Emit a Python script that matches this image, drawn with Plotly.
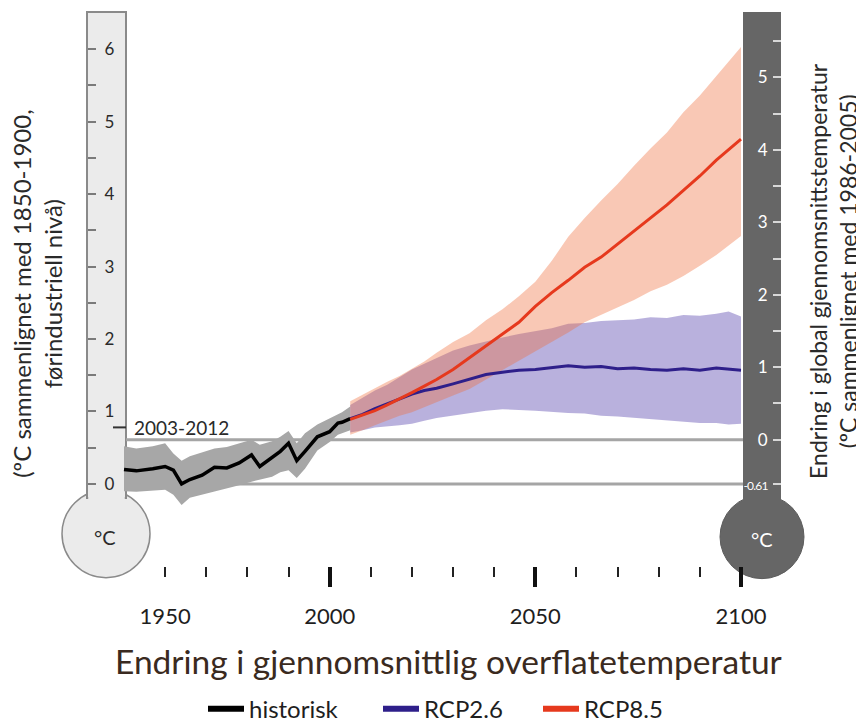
import plotly.graph_objects as go

# ---------------- data (°C relative to 1986-2005) ----------------
hist_years = [1950, 1953, 1957, 1960, 1962, 1964, 1966, 1969, 1972, 1975, 1978, 1981,
              1983, 1986, 1988, 1990, 1992, 1994, 1997, 2000, 2002, 2003, 2005]
hist_mean = [-0.41, -0.43, -0.40, -0.37, -0.42, -0.61, -0.55, -0.49, -0.38, -0.39, -0.32, -0.21,
             -0.37, -0.25, -0.16, -0.05, -0.29, -0.16, 0.04, 0.11, 0.23, 0.24, 0.29]
hist_high = [-0.09, -0.12, -0.09, -0.05, -0.19, -0.29, -0.23, -0.17, -0.12, -0.10, -0.05, 0.00,
             -0.07, -0.02, 0.04, 0.12, -0.05, 0.09, 0.21, 0.30, 0.36, 0.38, 0.46]
hist_low = [-0.71, -0.72, -0.70, -0.69, -0.76, -0.90, -0.80, -0.76, -0.71, -0.67, -0.63, -0.58,
            -0.55, -0.51, -0.45, -0.42, -0.53, -0.40, -0.15, -0.03, 0.07, 0.09, 0.13]

rcp_years = [2005, 2008, 2011, 2014, 2017, 2020, 2023, 2026, 2030, 2034, 2038, 2042, 2046, 2050,
             2054, 2058, 2062, 2066, 2070, 2074, 2078, 2082, 2086, 2090, 2094, 2097, 2100]
rcp26_mean = [0.29, 0.35, 0.43, 0.50, 0.57, 0.63, 0.68, 0.71, 0.77, 0.84, 0.90, 0.93, 0.96, 0.97,
              1.00, 1.02, 1.00, 1.01, 0.98, 0.99, 0.97, 0.96, 0.98, 0.96, 0.99, 0.97, 0.96]
rcp26_high = [0.48, 0.58, 0.68, 0.76, 0.86, 0.97, 1.05, 1.13, 1.23, 1.30, 1.36, 1.41, 1.46, 1.50,
              1.54, 1.60, 1.61, 1.64, 1.65, 1.66, 1.69, 1.68, 1.72, 1.71, 1.74, 1.77, 1.70]
rcp26_low = [0.10, 0.13, 0.17, 0.19, 0.20, 0.22, 0.26, 0.30, 0.33, 0.37, 0.40, 0.42, 0.41, 0.40,
             0.39, 0.37, 0.36, 0.33, 0.32, 0.30, 0.28, 0.26, 0.25, 0.23, 0.23, 0.21, 0.22]
rcp85_mean = [0.28, 0.34, 0.40, 0.48, 0.56, 0.65, 0.74, 0.83, 0.97, 1.13, 1.30, 1.45, 1.62, 1.84,
              2.03, 2.20, 2.38, 2.52, 2.70, 2.88, 3.05, 3.24, 3.44, 3.64, 3.86, 4.00, 4.15]
rcp85_high = [0.53, 0.62, 0.72, 0.80, 0.88, 0.98, 1.08, 1.20, 1.35, 1.47, 1.65, 1.80, 1.98, 2.18,
              2.47, 2.80, 3.06, 3.30, 3.53, 3.78, 4.02, 4.24, 4.52, 4.75, 5.02, 5.22, 5.42]
rcp85_low = [0.07, 0.13, 0.20, 0.27, 0.33, 0.38, 0.45, 0.52, 0.61, 0.70, 0.83, 0.97, 1.10, 1.23,
             1.35, 1.48, 1.62, 1.73, 1.83, 1.93, 2.05, 2.14, 2.26, 2.40, 2.55, 2.68, 2.81]

baseline_offset = 0.61          # 1986-2005 relative to 1850-1900
period_label = "2003-2012"
period_mean_preind = 0.78       # 2003-2012 mean relative to 1850-1900

series_names = ["historisk", "RCP2.6", "RCP8.5"]

x_tick_vals = [1960, 2000, 2050, 2100]
x_tick_text = ["1950", "2000", "2050", "2100"]
x_major_vals = [2000, 2050, 2100]
x_minor_vals = [1960, 1970, 1980, 1990, 2010, 2020, 2030, 2040, 2060, 2070, 2080, 2090]

left_tick_vals = [0, 1, 2, 3, 4, 5, 6]
left_tick_text = ["0", "1", "2", "3", "4", "5", "6"]
left_minor_vals = [0.5, 1.5, 2.5, 3.5, 4.5, 5.5]
right_tick_vals = [-0.61, 0, 1, 2, 3, 4, 5]
right_tick_text = ["-0.61", "0", "1", "2", "3", "4", "5"]
right_minor_vals = [0.5, 1.5, 2.5, 3.5, 4.5, 5.5]

title_text = "Endring i gjennomsnittlig overflatetemperatur"
left_title = "(ºC sammenlignet med 1850-1900,<br>førindustriell nivå)"
right_title = "Endring i global gjennomsnittstemperatur<br>(ºC sammenlignet med 1986-2005)"

# ---------------- geometry / style ----------------
W, H = 864, 724
OFF = 8                              # page body margin of the html page
FONT = "Lato"
PX_X0, PX_X1 = 124.0, 741.0          # screen pixel x of 1950 and 2100
PPY = (PX_X1 - PX_X0) / 150.0
PY_ZERO, PPD = 441.5, 72.75          # screen pixel y of 0 (right scale), pixels per degree
X_RANGE = [1950 - (PX_X0 - OFF) / PPY, 1950 + (W - (PX_X0 - OFF)) / PPY]
Y_RANGE = [-(H - (PY_ZERO - OFF)) / PPD, (PY_ZERO - OFF) / PPD]


def fx(p):
    return (p - OFF) / W


def fy(p):
    return 1 - (p - OFF) / H


C_HIST_BAND = "#a7a7a7"
C_26_BAND = "rgba(80,60,170,0.40)"
C_85_BAND = "rgba(240,110,60,0.38)"
C_HIST = "#000000"
C_26 = "#2e1f8a"
C_85 = "#e6391d"
TXT = "#2a2a2a"


def band(x, lo, hi, color):
    return go.Scatter(x=list(x) + list(x)[::-1], y=list(hi) + list(lo)[::-1],
                      fill="toself", fillcolor=color, line=dict(width=0),
                      mode="lines", showlegend=False, hoverinfo="skip")


fig = go.Figure()
fig.add_trace(band(hist_years, hist_low, hist_high, C_HIST_BAND))
fig.add_trace(band(rcp_years, rcp26_low, rcp26_high, C_26_BAND))
fig.add_trace(band(rcp_years, rcp85_low, rcp85_high, C_85_BAND))
fig.add_trace(go.Scatter(x=hist_years, y=hist_mean, mode="lines", showlegend=False,
                         line=dict(color=C_HIST, width=3.5)))
fig.add_trace(go.Scatter(x=rcp_years, y=rcp26_mean, mode="lines", showlegend=False,
                         line=dict(color=C_26, width=3)))
fig.add_trace(go.Scatter(x=rcp_years, y=rcp85_mean, mode="lines", showlegend=False,
                         line=dict(color=C_85, width=3)))
# legend entries (one legend box per entry)
for name, col, lg in zip(series_names, [C_HIST, C_26, C_85], ["legend", "legend2", "legend3"]):
    fig.add_trace(go.Scatter(x=[None], y=[None], mode="lines", name=name, legend=lg,
                             line=dict(color=col, width=6)))
# helper trace so the secondary axes are drawn
fig.add_trace(go.Scatter(x=[2000], y=[1], xaxis="x2", yaxis="y2", mode="markers",
                         marker=dict(opacity=0), showlegend=False, hoverinfo="skip"))

shapes = []
# left thermometer (light)
shapes.append(dict(type="circle", xref="paper", yref="paper", layer="below",
                   x0=fx(62), x1=fx(150), y0=fy(492), y1=fy(580),
                   fillcolor="#ebebeb", line=dict(color="#8a8a8a", width=1.5)))
shapes.append(dict(type="rect", xref="paper", yref="paper", layer="below",
                   x0=fx(87), x1=fx(126), y0=fy(12), y1=fy(500),
                   fillcolor="#ebebeb", line=dict(color="#8a8a8a", width=2)))
shapes.append(dict(type="rect", xref="paper", yref="paper", layer="below",
                   x0=fx(88.2), x1=fx(124.8), y0=fy(488), y1=fy(512),
                   fillcolor="#ebebeb", line=dict(width=0)))
# right thermometer (dark)
shapes.append(dict(type="circle", xref="paper", yref="paper", layer="below",
                   x0=fx(720), x1=fx(804), y0=fy(497), y1=fy(581),
                   fillcolor="#666666", line=dict(color="#5c5c5c", width=1)))
shapes.append(dict(type="rect", xref="paper", yref="paper", layer="below",
                   x0=fx(743), x1=fx(781), y0=fy(12), y1=fy(505),
                   fillcolor="#666666", line=dict(width=0)))
# reference lines (0 of right scale and 0 of left scale)
for yv in [0, -baseline_offset]:
    shapes.append(dict(type="line", xref="paper", yref="y", layer="below",
                       x0=fx(126), x1=fx(743), y0=yv, y1=yv,
                       line=dict(color="#a5a5a5", width=3)))
# 2003-2012 dash
shapes.append(dict(type="line", xref="paper", yref="y2", layer="below",
                   x0=fx(113), x1=fx(126), y0=period_mean_preind, y1=period_mean_preind,
                   line=dict(color="#333333", width=2)))

annotations = [
    dict(text=period_label, x=fx(132), y=period_mean_preind, xref="paper", yref="y2",
         xanchor="left", yanchor="middle", showarrow=False,
         font=dict(family=FONT, size=19, color=TXT)),
    dict(text="°C", x=fx(105), y=fy(539), xref="paper", yref="paper", showarrow=False,
         xanchor="center", yanchor="middle",
         font=dict(family=FONT, size=20, color=TXT)),
    dict(text="°C", x=fx(762), y=fy(541), xref="paper", yref="paper", showarrow=False,
         xanchor="center", yanchor="middle",
         font=dict(family=FONT, size=20, color="white")),
    dict(text=title_text, x=fx(449), y=fy(664), xref="paper", yref="paper", showarrow=False,
         xanchor="center", yanchor="middle",
         font=dict(family=FONT, size=33.5, color="#3a2a20")),
    dict(text=left_title, x=fx(37), y=fy(295), xref="paper", yref="paper", showarrow=False,
         xanchor="center", yanchor="middle", textangle=-90,
         font=dict(family=FONT, size=24, color=TXT)),
    dict(text=right_title, x=fx(833), y=fy(272), xref="paper", yref="paper", showarrow=False,
         xanchor="center", yanchor="middle", textangle=-90,
         font=dict(family=FONT, size=23, color=TXT)),
]

legend_style = dict(orientation="h", y=fy(712), xanchor="left", yanchor="middle",
                    font=dict(family=FONT, size=24, color="#1e1e1e"),
                    bgcolor="rgba(0,0,0,0)", itemwidth=36)

right_labels = [f'<span style="font-size:12px;letter-spacing:-0.8px">{t}</span>'
                if t.startswith("-") else t for t in right_tick_text]

fig.update_layout(
    template="none",
    width=W, height=H,
    margin=dict(l=0, r=0, t=0, b=0, pad=0),
    paper_bgcolor="white", plot_bgcolor="rgba(0,0,0,0)",
    font=dict(family=FONT, color=TXT),
    shapes=shapes, annotations=annotations,
    showlegend=True,
    legend=dict(legend_style, x=fx(203)),
    legend2=dict(legend_style, x=fx(378)),
    legend3=dict(legend_style, x=fx(538)),
    xaxis=dict(range=X_RANGE, domain=[0, 1], anchor="free", position=fy(603),
               showgrid=False, zeroline=False, showline=False, automargin=False,
               ticks="", tickmode="array", tickvals=x_tick_vals, ticktext=x_tick_text,
               tickfont=dict(family=FONT, size=22, color="#1e1e1e")),
    xaxis2=dict(matches="x", overlaying="x", anchor="free", position=fy(568), side="bottom",
                showgrid=False, zeroline=False, showline=False, automargin=False,
                showticklabels=False, ticks="outside", tickmode="array", tickvals=x_major_vals,
                ticklen=20, tickwidth=4, tickcolor="#111111",
                minor=dict(tickmode="array", tickvals=x_minor_vals, ticks="outside",
                           ticklen=10, tickwidth=2, tickcolor="#222222", showgrid=False)),
    yaxis=dict(range=Y_RANGE, domain=[0, 1], anchor="free", position=fx(781), side="left",
               showgrid=False, zeroline=False, showline=False, automargin=False,
               ticks="outside", ticklen=8, tickwidth=2, tickcolor="#d8d8d8",
               tickmode="array", tickvals=right_tick_vals, ticktext=right_labels,
               ticklabelstandoff=2,
               tickfont=dict(family=FONT, size=17, color="white"),
               minor=dict(tickmode="array", tickvals=right_minor_vals, ticks="outside",
                          ticklen=8, tickwidth=2, tickcolor="#d8d8d8", showgrid=False)),
    yaxis2=dict(range=[Y_RANGE[0] + baseline_offset, Y_RANGE[1] + baseline_offset],
                overlaying="y", anchor="free", position=fx(87), side="right",
                showgrid=False, zeroline=False, showline=False, automargin=False,
                ticks="outside", ticklen=8, tickwidth=2, tickcolor="#7a7a7a",
                tickmode="array", tickvals=left_tick_vals, ticktext=left_tick_text,
                ticklabelstandoff=5,
                tickfont=dict(family=FONT, size=17, color=TXT),
                minor=dict(tickmode="array", tickvals=left_minor_vals, ticks="outside",
                           ticklen=8, tickwidth=2, tickcolor="#7a7a7a", showgrid=False)),
)

fig.write_html("out.html")
